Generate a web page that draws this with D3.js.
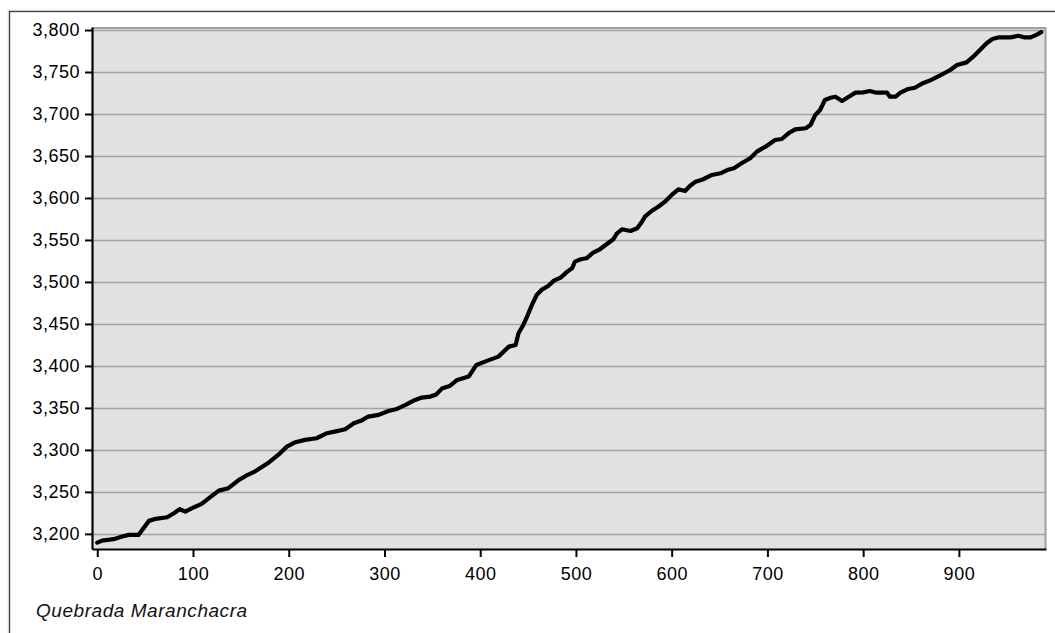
<!DOCTYPE html>
<html><head><meta charset="utf-8">
<script src="https://cdn.jsdelivr.net/npm/d3@7"></script>
<style>
html,body{margin:0;padding:0;background:#fff;}
svg{display:block;font-family:"Liberation Sans",Arial,sans-serif;}
</style></head>
<body>
<svg id="c" width="1055" height="633"></svg>
<script>
const distance = [0,5,17,26,33,43,54,61,73,80,86,92,99,109,118,127,137,148,155,165,178,189,198,207,217,229,240,248,259,268,276,283,294,304,313,322,332,339,348,354,360,368,376,388,396,407,419,430,437,440,445,449,454,459,464,471,477,484,491,496,499,505,511,518,525,532,539,543,548,557,564,569,572,579,586,593,600,607,614,619,625,633,642,651,658,665,673,682,689,698,708,715,722,729,740,745,750,755,760,766,771,778,785,792,800,807,814,825,828,834,839,846,854,863,870,881,891,898,908,915,922,929,935,942,954,962,968,975,982,986];
const elevation = [3189.6,3192,3193.7,3196.8,3198.8,3198.8,3215.5,3217.9,3219.8,3224.6,3229.4,3226.6,3230.6,3235.7,3243.7,3251.5,3254.4,3264.3,3269,3274.5,3284,3294,3303.9,3309.2,3311.9,3313.9,3319.9,3321.8,3324.6,3331.8,3334.9,3339.7,3341.7,3346.4,3348.8,3353.6,3359.5,3362.3,3363.5,3366,3373,3376,3383.3,3387.3,3401.2,3406,3411.1,3423,3425,3438.9,3448.8,3458.7,3472.6,3484.5,3490.5,3495.2,3501.6,3505.2,3512.3,3516.3,3524.2,3527,3528.2,3534.9,3538.9,3544.9,3550.8,3558,3562.7,3560.7,3563.9,3571.8,3577.7,3584.5,3589.6,3595.6,3603.6,3610.3,3608.3,3614.3,3619.4,3622.3,3627.4,3629.4,3633.3,3635.4,3641.3,3647.3,3655.2,3661.1,3669,3670.2,3677,3681.7,3683,3686.9,3698.8,3704.8,3716.7,3719.4,3720.6,3715.5,3720.6,3725.4,3725.8,3727.4,3725.4,3725.4,3720.6,3720.6,3725.4,3729.4,3731.3,3737,3740,3746.4,3752.4,3758.3,3761.5,3768.2,3776.2,3784.2,3789.3,3791.3,3791.3,3793.2,3791.3,3791.3,3794.9,3797.5];
const xTicks = [0,100,200,300,400,500,600,700,800,900];
const yTicks = [3200,3250,3300,3350,3400,3450,3500,3550,3600,3650,3700,3750,3800];
const axisTitle = "Quebrada Maranchacra";

const data = distance.map((d,i)=>({x:d,y:elevation[i]}));
const svg = d3.select("#c");
const L=92, R=1046, T=27, B=549;
const x = d3.scaleLinear().domain([-5.5,991]).range([L,R]);
const y = d3.scaleLinear().domain([3182,3803.6]).range([B,T]);

// outer frame with faint shadow
svg.append("rect").attr("x",8).attr("y",10).attr("width",1100).attr("height",700)
  .attr("fill","none").attr("stroke","#e6e6e6").attr("stroke-width",1);
svg.append("rect").attr("x",9.5).attr("y",11.5).attr("width",1100).attr("height",700)
  .attr("fill","#fff").attr("stroke","#3a3a3a").attr("stroke-width",1.3);

// plot area
svg.append("rect").attr("x",L).attr("y",T).attr("width",R-L).attr("height",B-T).attr("fill","#e1e1e1");

// gridlines
svg.append("g").selectAll("line").data(yTicks).join("line")
  .attr("x1",L).attr("x2",R).attr("y1",d=>Math.round(y(d))+0.5).attr("y2",d=>Math.round(y(d))+0.5)
  .attr("stroke","#a2a2a2").attr("stroke-width",1.3);

// top & right border
svg.append("path").attr("d",`M${L},${T+1}H${R-0.5}V${B}`).attr("fill","none")
  .attr("stroke","#a0a0a0").attr("stroke-width",2);

// axes
const yAxis = d3.axisLeft(y).tickValues(yTicks).tickFormat(d3.format(",")).tickSizeInner(7).tickSizeOuter(0).tickPadding(5);
const xAxis = d3.axisBottom(x).tickValues(xTicks).tickFormat(d3.format("d")).tickSizeInner(8).tickSizeOuter(0).tickPadding(10);
const gy = svg.append("g").attr("transform",`translate(${L},0)`).call(yAxis);
const gx = svg.append("g").attr("transform",`translate(0,${B})`).call(xAxis);
[gx,gy].forEach(g=>{
  g.select(".domain").attr("stroke","#000").attr("stroke-width",2.2);
  g.selectAll(".tick line").attr("stroke","#000").attr("stroke-width",2);
  g.selectAll(".tick text").attr("fill","#000").attr("font-size",18)
   .attr("font-family","'Liberation Sans',Arial,sans-serif").style("letter-spacing","0.5px");
});

// line
const line = d3.line().x(d=>x(d.x)).y(d=>y(d.y));
svg.append("path").datum(data).attr("d",line).attr("fill","none")
  .attr("stroke","#000").attr("stroke-width",4.2).attr("stroke-linejoin","round").attr("stroke-linecap","round");

// title
svg.append("text").attr("x",36).attr("y",617).attr("font-size",19).attr("font-style","italic")
  .style("letter-spacing","0.55px").attr("fill","#111").text(axisTitle);
</script>
</body></html>
